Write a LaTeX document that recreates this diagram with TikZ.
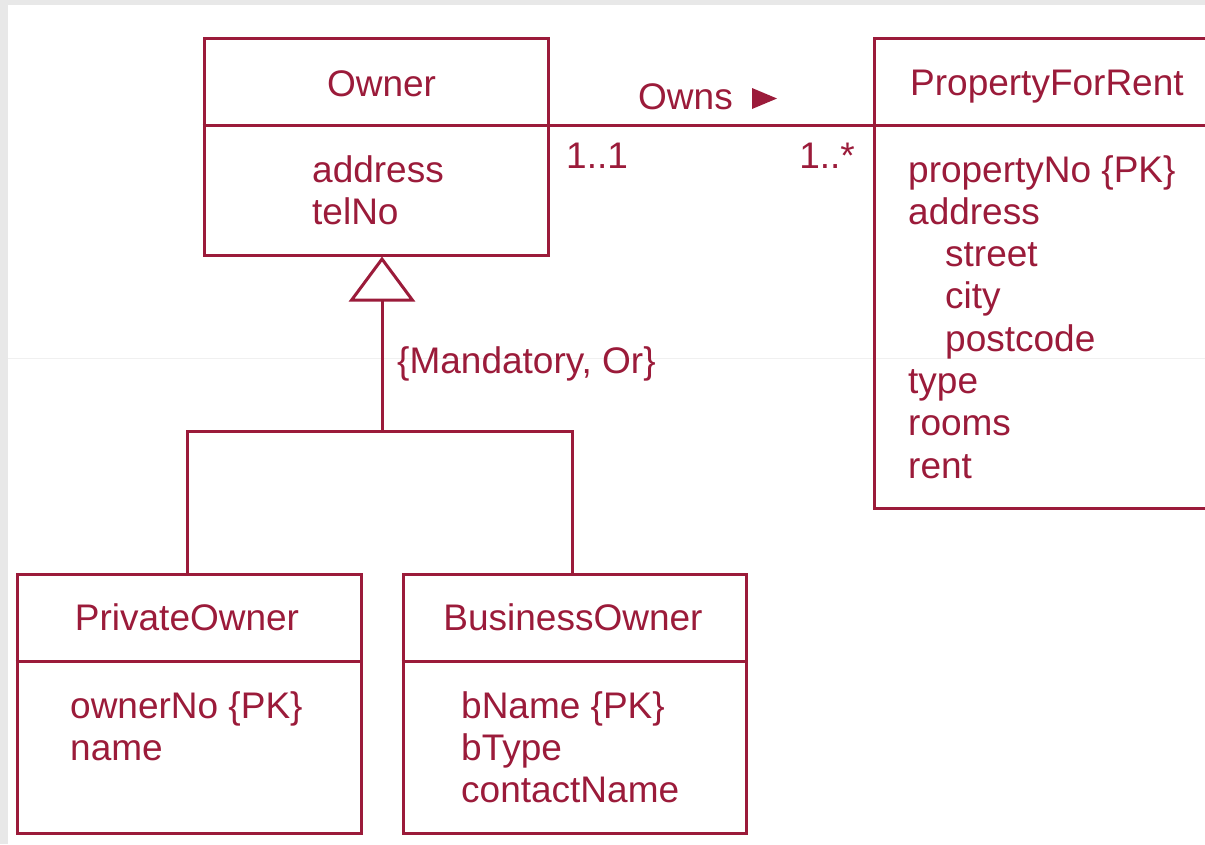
\documentclass[tikz,border=0pt]{standalone}
\usepackage{fontspec}
\setmainfont{Liberation Sans}
\usetikzlibrary{arrows.meta}
\definecolor{uml}{RGB}{155,27,58}
\definecolor{frame}{RGB}{232,232,232}
\definecolor{faint}{RGB}{240,240,240}
\tikzset{
  box/.style={draw=uml, line width=3pt, rectangle, inner sep=0pt},
  umlline/.style={draw=uml, line width=3pt},
  title/.style={text=uml, anchor=base, inner sep=0pt, font=\fontsize{37}{42.3}\selectfont},
  attr/.style={text=uml, anchor=base west, inner sep=0pt, font=\fontsize{37}{42.3}\selectfont},
  lbl/.style={text=uml, inner sep=0pt, font=\fontsize{37}{42.3}\selectfont},
  gen/.style={umlline, -{Triangle[open, length=45pt, width=66pt, line width=3pt]}},
}
\begin{document}
\begin{tikzpicture}[x=1pt, y=-1pt]
\useasboundingbox (0,0) rectangle (1205,844);
\fill[white] (0,0) rectangle (1205,844);
\fill[frame] (0,0) rectangle (1205,5);
\fill[frame] (0,0) rectangle (8,844);
\draw[faint, line width=1pt] (8,358) -- (1205,358);

% boxes
\node[box, minimum width=344pt, minimum height=217pt] (owner) at (376,146.5) {};
\node[box, minimum width=344pt, minimum height=470pt] (pfr) at (1046,273) {};
\node[box, minimum width=344pt, minimum height=259pt] (private) at (189,703.5) {};
\node[box, minimum width=343pt, minimum height=259pt] (business) at (574.5,703.5) {};

% dividers
\draw[umlline] (owner.west |- 0,125) -- (owner.east |- 0,125);
\draw[umlline] (pfr.west |- 0,125) -- (pfr.east |- 0,125);
\draw[umlline] (private.west |- 0,661) -- (private.east |- 0,661);
\draw[umlline] (business.west |- 0,661) -- (business.east |- 0,661);

% titles
\node[title] (ownert) at (381.5,96) {Owner};
\node[title, anchor=base west] (pfrt) at (910,95) {PropertyForRent};
\node[title] (privatet) at (187,630) {PrivateOwner};
\node[title] (businesst) at (573,630) {BusinessOwner};

% attributes
\node[attr] (ownera) at (312,182) {\begin{tabular}[t]{@{}l@{}}address\\telNo\end{tabular}};
\node[attr] (pfra) at (908,182) {\begin{tabular}[t]{@{}l@{}}propertyNo \{PK\}\\address\\\hspace*{37pt}street\\\hspace*{37pt}city\\\hspace*{37pt}postcode\\type\\rooms\\rent\end{tabular}};
\node[attr] (privatea) at (70,718) {\begin{tabular}[t]{@{}l@{}}ownerNo \{PK\}\\name\end{tabular}};
\node[attr] (businessa) at (461,718) {\begin{tabular}[t]{@{}l@{}}bName \{PK\}\\bType\\contactName\end{tabular}};

% association
\draw[umlline] (owner.east |- 0,125) -- (pfr.west |- 0,125);
\node[lbl, anchor=base west] (owns) at (638,109) {Owns};
\fill[uml] (752,88) -- (752,109) -- (777,98.5) -- cycle;
\node[lbl, anchor=base west] (m1) at (566,168) {1..1};
\node[lbl, anchor=base east] (m2) at (855,168) {1..*};

% generalization
\coordinate (g) at (382,431);
\draw[gen] (g) -- (g |- owner.south);
\draw[umlline] (private.north -| 187,0) |- (g) -| (business.north -| 572,0);
\node[lbl, anchor=base west] (constraint) at (397,373) {\{Mandatory, Or\}};
\end{tikzpicture}
\end{document}
